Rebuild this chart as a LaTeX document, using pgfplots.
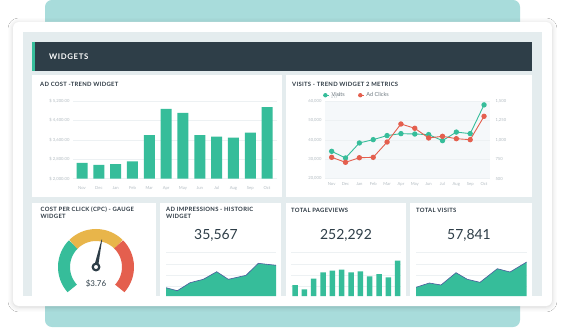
\documentclass[border=0pt]{standalone}
\usepackage{pgfplots}
\usepackage{pgfplotstable}
\pgfplotsset{compat=1.18}
\usepackage{fontspec}
\setmainfont{Lato}
\usetikzlibrary{shadows.blur}
\definecolor{bgteal}{HTML}{A8DCDB}
\definecolor{panelgray}{HTML}{E4ECEE}
\definecolor{hdr}{HTML}{2E3E48}
\definecolor{gr}{HTML}{36BD9A}
\definecolor{rd}{HTML}{E45F4E}
\definecolor{yl}{HTML}{E8B54A}
\definecolor{ticktxt}{HTML}{B3BCC2}
\definecolor{gridc}{HTML}{EDF1F3}
\definecolor{txt}{HTML}{2E3A44}
\definecolor{outl}{HTML}{4B5A9C}
\definecolor{plotbg}{HTML}{F5F8FA}
\definecolor{legtxt}{HTML}{6E7980}

\pgfplotstableread{
x y
166 8.3
177.3 5.3
190 13.3
203.3 16.7
216.7 24.3
228.3 16.7
246 20.7
258.3 32.7
276 30.7
}\impr
\pgfplotstableread{
x y
416 8.7
429.3 13
441 11
456 23.3
467.3 16.7
480 13.7
497.3 27.3
510 24
526.7 34
}\tvisits

\pgfplotsset{
  dash/.style={scale only axis, anchor=south west,
    axis line style={draw=none}, tick style={draw=none},
    grid style={gridc, line width=0.6bp},
    tick label style={font=\fontsize{4.2}{5}\selectfont, text=ticktxt}},
  mini/.style={dash, ymajorgrids, xticklabels={}, yticklabels={}, xtick=\empty}
}
\newcommand{\ttl}{\bfseries\fontsize{5.9}{7.2}\selectfont\addfontfeature{LetterSpace=5}}

\begin{document}
\begin{tikzpicture}[x=1bp,y=1bp]
\path[use as bounding box] (0,0) rectangle (565,327);
\fill[white] (0,0) rectangle (565,327);
\fill[bgteal, rounded corners=7] (45,0) rectangle (520,327);
\fill[white, rounded corners=6, blur shadow={shadow blur radius=5, shadow xshift=0, shadow yshift=-1, shadow opacity=18}] (13,327-306) rectangle (552,327-22);
\fill[panelgray] (23,327-296) rectangle (542,327-32);
\fill[hdr] (32,327-71) rectangle (532,327-42);
\fill[gr] (32,327-71) rectangle (35,327-42);
\node[anchor=west, white, font=\bfseries\fontsize{7.8}{8}\selectfont\addfontfeature{LetterSpace=8}, inner sep=0] at (49,327-57) {WIDGETS};
% panels
\fill[white] (32,327-197) rectangle (282,327-75);
\fill[white] (286,327-197) rectangle (532,327-75);
\fill[white] (32,327-296) rectangle (156,327-203);
\fill[white] (160,327-296) rectangle (281,327-203);
\fill[white] (286,327-296) rectangle (406,327-203);
\fill[white] (410,327-296) rectangle (532,327-203);
% titles
\begin{scope}[every node/.style={anchor=west, inner sep=0, txt, font=\ttl}]
\node at (40,327-84) {AD COST -TREND WIDGET};
\node at (292,327-84) {VISITS - TREND WIDGET 2 METRICS};
\node[anchor=north west, align=left] at (40.5,327-207) {COST PER CLICK (CPC) - GAUGE\\WIDGET};
\node[anchor=north west, align=left] at (166,327-207) {AD IMPRESSIONS - HISTORIC\\WIDGET};
\node at (291,327-210) {TOTAL PAGEVIEWS};
\node at (416,327-210) {TOTAL VISITS};
\end{scope}
% big numbers
\begin{scope}[every node/.style={inner sep=0, hdr, font=\fontsize{14}{14}\selectfont}]
\node at (216,327-235) {35,567};
\node at (346,327-235) {252,292};
\node at (469,327-235) {57,841};
\end{scope}

% Ad cost bars
\begin{axis}[dash, at={(73bp,148.3bp)}, width=204bp, height=77.7bp,
  xmin=-0.535, xmax=11.59, ymin=2000, ymax=5200,
  ytick={2000,2800,3600,4400,5200},
  yticklabels={{\$ 2,000.00},{\$ 2,800.00},{\$ 3,600.00},{\$ 4,400.00},{\$ 5,200.00}},
  xtick={0,...,11}, xticklabels={Nov,Dec,Jan,Feb,Mar,Apr,May,Jun,Jul,Aug,Sep,Oct},
  ymajorgrids, ybar, bar width=11bp]
\addplot[fill=gr, draw=none] coordinates {(0,2650) (1,2565) (2,2605) (3,2717) (4,3790) (5,4874) (6,4709) (7,3790) (8,3732) (9,3690) (10,3897) (11,4944)};
\end{axis}

% Visits / Ad clicks
\begin{axis}[dash, at={(325bp,148.3bp)}, width=165bp, height=77.7bp,
  xmin=-0.48, xmax=11.43, ymin=20000, ymax=60000,
  axis background/.style={fill=plotbg},
  ytick={20000,30000,40000,50000,60000},
  yticklabels={{20,000},{30,000},{40,000},{50,000},{60,000}},
  xtick={0,...,11}, xticklabels={Nov,Dec,Jan,Feb,Mar,Apr,May,Jun,Jul,Aug,Sep,Oct},
  ymajorgrids,
  legend style={at={(-0.015,1.01)}, anchor=south west, draw=none, fill=none, inner sep=0,
    font=\fontsize{5.6}{6}\selectfont, text=legtxt, cells={anchor=west, inner sep=0.6bp},
    /tikz/every even column/.append style={column sep=11bp}},
  legend columns=2,
  legend image code/.code={\fill[#1, draw=none] (2.2bp,0) circle (2.2bp); \path (0,0) -- (6bp,0);}]
\addplot[gr, line width=0.9bp, mark=*, mark size=2.2bp, mark options={draw=none, fill=gr}] coordinates {(0,34100) (1,30670) (2,38400) (3,40100) (4,42200) (5,43200) (6,43000) (7,42700) (8,39600) (9,44000) (10,43200) (11,58000)};
\addlegendentry{Visits}
\addlegendimage{rd}
\addlegendentry{Ad Clicks}
\end{axis}
\begin{axis}[dash, at={(325bp,148.3bp)}, width=165bp, height=77.7bp,
  xmin=-0.48, xmax=11.43, ymin=500, ymax=1500,
  axis y line*=right, axis x line=none,
  ytick={500,750,1000,1250,1500},
  yticklabels={500,750,{1,000},{1,250},{1,500}},
  yticklabel style={xshift=2bp}]
\addplot[rd, line width=0.9bp, mark=*, mark size=2.2bp, mark options={draw=none, fill=rd}] coordinates {(0,775) (1,711) (2,770) (3,775) (4,972) (5,1204) (6,1149) (7,1024) (8,1046) (9,1015) (10,1002) (11,1303)};
\end{axis}

% Ad impressions area
\begin{axis}[mini, at={(166bp,31bp)}, width=110bp, height=43.3bp,
  xmin=166, xmax=276, ymin=0, ymax=43.3, ytick={9.3,20.7,32,43.3}]
\addplot[fill=gr, draw=none] table {\impr} \closedcycle;
\addplot[outl, line width=0.6bp] table {\impr};
\end{axis}

% Pageviews bars
\begin{axis}[mini, at={(291bp,31bp)}, width=110bp, height=43.3bp,
  xmin=-0.43, xmax=11.35, ymin=0, ymax=43.3, ytick={9.3,20.7,32,43.3},
  ybar, bar width=5.5bp]
\addplot[fill=gr, draw=none] coordinates {(0,11) (1,6.7) (2,17.3) (3,23.7) (4,25.3) (5,26.3) (6,23.7) (7,24.7) (8,19.7) (9,22) (10,18.7) (11,35.3)};
\end{axis}

% Total visits area
\begin{axis}[mini, at={(416bp,31bp)}, width=110.7bp, height=43.3bp,
  xmin=416, xmax=526.7, ymin=0, ymax=43.3, ytick={9.3,20.7,32,43.3}]
\addplot[fill=gr, draw=none] table {\tvisits} \closedcycle;
\addplot[outl, line width=0.6bp] table {\tvisits};
\end{axis}

% Gauge
\begin{scope}[line width=12bp]
\draw[gr] (96,60) ++(222:32) arc[start angle=222, end angle=135, radius=32];
\draw[yl] (96,60) ++(135:32) arc[start angle=135, end angle=45, radius=32];
\draw[rd] (96,60) ++(45:32) arc[start angle=45, end angle=-42, radius=32];
\end{scope}
\fill[hdr, rotate around={78:(96,60)}] (96,62) -- (124,60.3) -- (124,59.7) -- (96,58) -- cycle;
\filldraw[fill=white, draw=hdr, line width=2.2bp] (96,60) circle (3.3);
\node[inner sep=0, hdr, font=\fontsize{8}{8}\selectfont] at (96,327-284) {\$3.76};
\end{tikzpicture}
\end{document}
